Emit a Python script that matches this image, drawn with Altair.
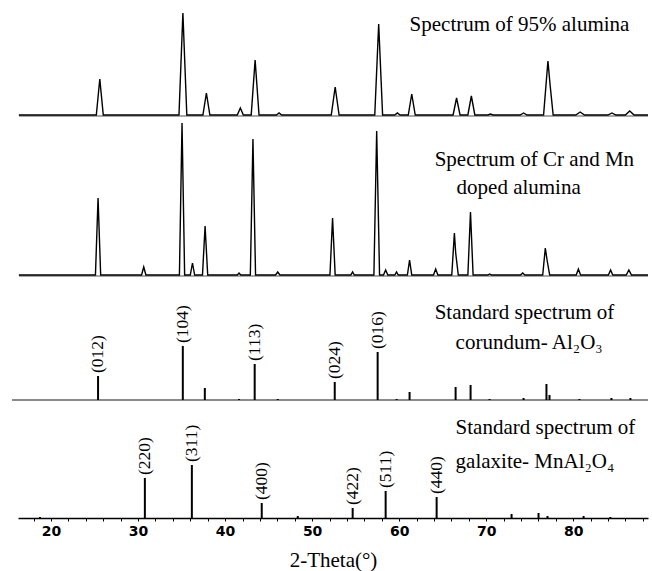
import altair as alt
import pandas as pd

# ---------------- data ----------------
# Spectrum of 95% alumina (line vertices: 2-theta, intensity)
p1_theta = [16.3, 25.2, 25.6, 26.0, 34.7, 35.15, 35.6, 37.45, 37.85, 38.25,
            41.4, 41.75, 42.1, 43.0, 43.45, 43.9, 45.9, 46.2, 46.5,
            52.2, 52.65, 53.1, 57.2, 57.65, 58.1, 59.5, 59.8, 60.1,
            61.05, 61.45, 61.85, 66.2, 66.6, 67.0, 67.9, 68.3, 68.7,
            70.2, 70.5, 70.8, 73.9, 74.3, 74.7, 76.6, 77.1, 77.35, 77.7,
            80.3, 80.8, 81.3, 84.0, 84.45, 84.9, 86.0, 86.5, 87.0, 88.6]
p1_int = [0, 0, 36, 0, 0, 102, 0, 0, 22, 0,
          0, 7, 0, 0, 55, 0, 0, 2, 0,
          0, 28, 0, 0, 91, 0, 0, 2, 0,
          0, 21, 0, 0, 17, 0, 0, 19, 0,
          0, 1, 0, 0, 2, 0, 0, 54, 30, 0,
          0, 3, 0, 0, 2, 0, 0, 4, 0, 0]

# Spectrum of Cr and Mn doped alumina
p2_theta = [16.3, 25.1, 25.4, 25.7, 30.4, 30.65, 30.9, 34.75, 35.05, 35.35,
            36.0, 36.25, 36.5, 37.4, 37.7, 38.0, 41.4, 41.6, 41.8,
            42.9, 43.2, 43.5, 45.8, 46.05, 46.3, 52.05, 52.35, 52.65,
            54.45, 54.65, 54.85, 57.1, 57.42, 57.75, 58.2, 58.45, 58.7,
            59.5, 59.7, 59.9, 60.95, 61.2, 61.45, 63.95, 64.2, 64.45,
            66.05, 66.35, 66.5, 66.8, 67.9, 68.2, 68.5, 70.2, 70.4, 70.6,
            73.95, 74.2, 74.45, 76.5, 76.8, 77.0, 77.3, 80.35, 80.6, 80.85,
            84.05, 84.3, 84.55, 86.1, 86.4, 86.7, 88.6]
p2_int = [0, 0, 77, 0, 0, 8, 0, 0, 152, 0,
          0, 12, 0, 0, 49, 0, 0, 2, 0,
          0, 136, 0, 0, 3, 0, 0, 57, 0,
          0, 3, 0, 0, 144, 0, 0, 5, 0,
          0, 3, 0, 0, 15, 0, 0, 6, 0,
          0, 42, 22, 0, 0, 63, 0, 0, 1, 0,
          0, 2, 0, 0, 27, 15, 0, 0, 6, 0,
          0, 5, 0, 0, 5, 0, 0]

# Standard spectrum of corundum Al2O3 (sticks)
p3_theta = [25.4, 35.14, 37.67, 41.6, 43.4, 46.05, 52.6, 57.53, 59.71, 61.2,
            66.49, 68.21, 70.39, 74.3, 76.93, 77.28, 80.72, 84.4, 86.58]
p3_int = [24, 54, 12, 1, 36, 1, 18, 48, 1, 8,
          13, 15, 1, 2, 16, 5, 1, 2, 2]
p3_hkl_theta = [25.4, 35.14, 43.4, 52.6, 57.53]
p3_hkl_int = [24, 54, 36, 18, 48]
p3_hkl = ["(012)", "(104)", "(113)", "(024)", "(016)"]

# Standard spectrum of galaxite MnAl2O4 (sticks)
p4_theta = [18.73, 30.78, 36.18, 44.21, 48.35, 54.66, 58.45, 64.31,
            72.92, 76.02, 77.05, 81.2, 84.28]
p4_int = [1, 40, 53, 15, 2, 10, 27, 21, 4, 5, 2, 2, 1]
p4_hkl_theta = [30.78, 36.18, 44.21, 54.66, 58.45, 64.31]
p4_hkl_int = [40, 53, 15, 10, 27, 21]
p4_hkl = ["(220)", "(311)", "(400)", "(422)", "(511)", "(440)"]

# panel texts
ann_text = ["Spectrum of 95% alumina",
            "Spectrum of Cr and Mn", "doped alumina",
            "Standard spectrum of", "corundum- Al\u2082O\u2083",
            "Standard spectrum of", "galaxite- MnAl\u2082O\u2084"]

# ---------------- layout (offsets of the stacked panels) ----------------
BASE = [403, 243, 118, 0]
YMAX = 518
ann_theta = [61.2, 64.08, 66.6, 64.08, 66.49, 66.49, 66.49]
ann_y = [493, 358, 330, 205, 175, 90, 56]
SERIF = "Liberation Serif, DejaVu Serif, serif"

lines = pd.concat([
    pd.DataFrame({"theta": p1_theta, "y": [BASE[0] + v for v in p1_int], "s": "p1"}),
    pd.DataFrame({"theta": p2_theta, "y": [BASE[1] + v for v in p2_int], "s": "p2"}),
])
sticks = pd.concat([
    pd.DataFrame({"theta": p3_theta, "y": BASE[2], "y1": [BASE[2] + v for v in p3_int]}),
    pd.DataFrame({"theta": p4_theta, "y": BASE[3], "y1": [BASE[3] + v for v in p4_int]}),
])
labels = pd.concat([
    pd.DataFrame({"theta": p3_hkl_theta, "y": [BASE[2] + v for v in p3_hkl_int], "t": p3_hkl}),
    pd.DataFrame({"theta": p4_hkl_theta, "y": [BASE[3] + v for v in p4_hkl_int], "t": p4_hkl}),
])
ann = pd.DataFrame({"theta": ann_theta, "y": ann_y, "t": ann_text})
seps = pd.DataFrame({"y": [BASE[0] - 1, BASE[1] - 1]})
sep3 = pd.DataFrame({"y": [BASE[2]]})

X = alt.X("theta:Q",
          scale=alt.Scale(domain=[16.2, 88.6], nice=False, zero=False),
          axis=alt.Axis(values=list(range(18, 89, 2)),
                        labelExpr="datum.value % 10 === 0 ? datum.label : ''",
                        title="2-Theta(\u00b0)", grid=False,
                        domainColor="black", domainWidth=1.5,
                        tickColor="black", tickSize=3, tickWidth=1,
                        labelFont="DejaVu Sans", labelFontSize=14,
                        labelFontWeight="bold", labelColor="black",
                        labelPadding=3,
                        titleFont=SERIF, titleFontSize=21,
                        titleFontWeight="normal", titleColor="black",
                        titleY=42, titleBaseline="middle"))
YS = alt.Scale(domain=[0, YMAX], nice=False, zero=False)
Y = alt.Y("y:Q", scale=YS, axis=None)

sep_layer = alt.Chart(seps).mark_rule(color="#8a8a8a", strokeWidth=1.5).encode(
    y=Y, x=alt.value(1), x2=alt.value(630))
sep3_layer = alt.Chart(sep3).mark_rule(color="#8a8a8a", strokeWidth=2.2).encode(
    y=Y, x=alt.value(-6), x2=alt.value(630))
line_layer = alt.Chart(lines).mark_line(color="black", strokeWidth=1.4).encode(
    x=X, y=Y, detail="s:N")
stick_layer = alt.Chart(sticks).mark_rule(color="black", strokeWidth=2).encode(
    x=X, y=Y, y2="y1:Q")
label_layer = alt.Chart(labels).mark_text(
    angle=270, align="left", baseline="middle", dx=3,
    font=SERIF, fontSize=17.5, color="black").encode(
    x=X, y=Y, text="t:N")
ann_layer = alt.Chart(ann).mark_text(
    align="left", baseline="middle", font=SERIF,
    fontSize=21, color="black").encode(x=X, y=Y, text="t:N")

chart = alt.layer(sep_layer, sep3_layer, line_layer, stick_layer,
                  label_layer, ann_layer).properties(
    width=630, height=YMAX,
    padding={"left": 18, "right": 4, "top": 0, "bottom": 53},
    autosize=alt.AutoSizeParams(type="none"),
    background="white",
).configure_view(strokeWidth=0)

chart.save("out.html", embed_options={"renderer": "svg", "actions": False})
